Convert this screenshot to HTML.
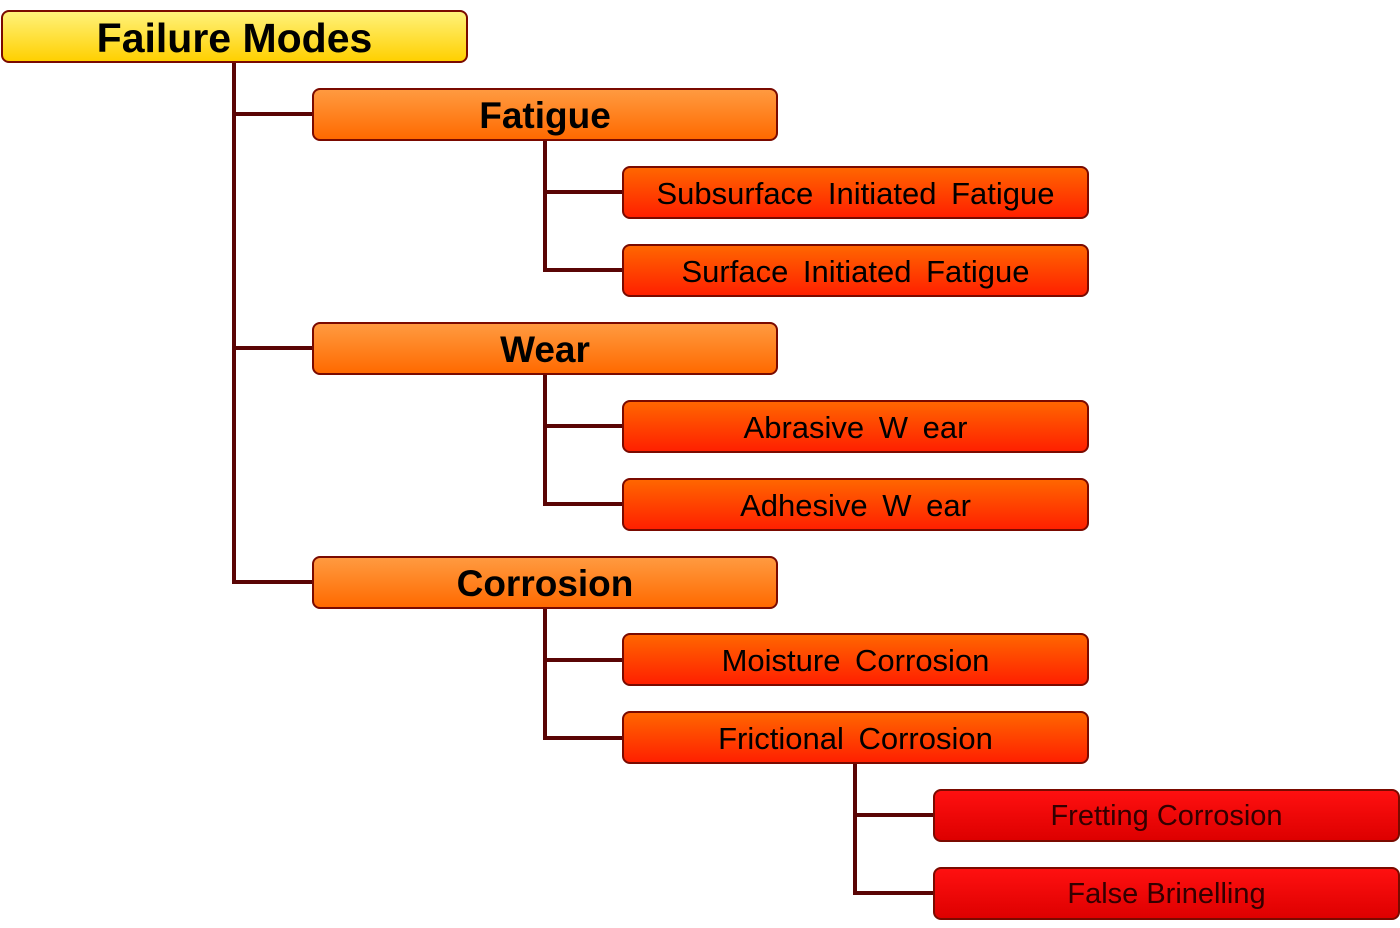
<!DOCTYPE html>
<html><head><style>
body{margin:0;width:1400px;height:928px;background:#fff;position:relative;overflow:hidden;font-family:"Liberation Sans",sans-serif}
.b{position:absolute;box-sizing:border-box;border:2px solid #7a0a00;border-radius:8px;display:flex;align-items:center;justify-content:center;color:#000;white-space:nowrap}
.r{left:1px;top:10px;width:467px;height:53px;background:linear-gradient(#fff27a,#ffd000);font-weight:bold;font-size:41px;padding-top:3px}
.l1{left:312px;width:466px;height:53px;background:linear-gradient(#ff9a40,#ff6a00);font-weight:bold;font-size:37px;padding-top:2px}
.l2{left:622px;width:467px;height:53px;background:linear-gradient(#ff6600,#ff2000);font-size:31px;word-spacing:6px;padding-top:2px}
.l3{left:933px;width:467px;height:53px;background:linear-gradient(#ff1010,#dd0000);font-size:29px;color:#300;padding-top:2px}
.v,.h{position:absolute;background:#5a0505}
.v{width:4px}.h{height:4px}
</style></head><body>
<div class="v" style="left:232px;top:62px;height:522px"></div>
<div class="h" style="left:232px;top:112px;width:82px"></div>
<div class="h" style="left:232px;top:346px;width:82px"></div>
<div class="h" style="left:232px;top:580px;width:82px"></div>
<div class="v" style="left:543px;top:140px;height:132px"></div>
<div class="h" style="left:543px;top:190px;width:82px"></div>
<div class="h" style="left:543px;top:268px;width:82px"></div>
<div class="v" style="left:543px;top:374px;height:132px"></div>
<div class="h" style="left:543px;top:424px;width:82px"></div>
<div class="h" style="left:543px;top:502px;width:82px"></div>
<div class="v" style="left:543px;top:608px;height:132px"></div>
<div class="h" style="left:543px;top:658px;width:82px"></div>
<div class="h" style="left:543px;top:736px;width:82px"></div>
<div class="v" style="left:853px;top:763px;height:132px"></div>
<div class="h" style="left:853px;top:813px;width:82px"></div>
<div class="h" style="left:853px;top:891px;width:82px"></div>
<div class="b r">Failure Modes</div>
<div class="b l1" style="top:88px">Fatigue</div>
<div class="b l1" style="top:322px">Wear</div>
<div class="b l1" style="top:556px">Corrosion</div>
<div class="b l2" style="top:166px">Subsurface Initiated Fatigue</div>
<div class="b l2" style="top:244px">Surface Initiated Fatigue</div>
<div class="b l2" style="top:400px">Abrasive W ear</div>
<div class="b l2" style="top:478px">Adhesive W ear</div>
<div class="b l2" style="top:633px">Moisture Corrosion</div>
<div class="b l2" style="top:711px">Frictional Corrosion</div>
<div class="b l3" style="top:789px">Fretting Corrosion</div>
<div class="b l3" style="top:867px">False Brinelling</div>
</body></html>
